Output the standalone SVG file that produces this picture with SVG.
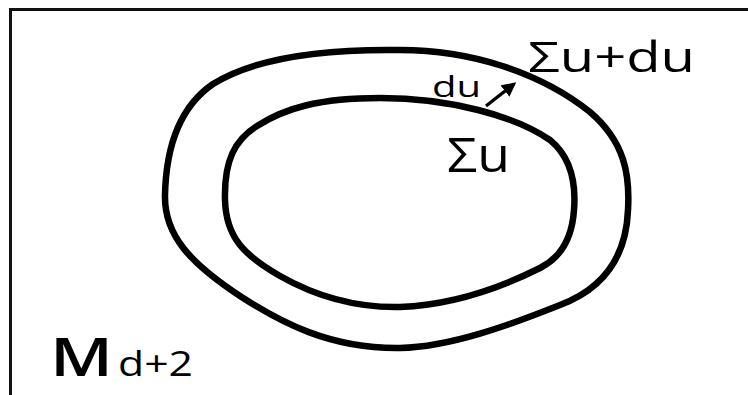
<svg xmlns="http://www.w3.org/2000/svg" width="748" height="395" viewBox="0 0 748 395">
<style>
.t{font-family:"Open Sans","Noto Sans","DejaVu Sans",sans-serif;fill:#000}
.c{fill:none;stroke:#000;stroke-width:6.5;stroke-linejoin:round}
</style>
<defs>
<marker id="ah" viewBox="0 0 10 10" refX="8" refY="5" markerWidth="4.5" markerHeight="4.5" orient="auto" markerUnits="strokeWidth">
<path d="M0,0 L10,5 L0,10 z" fill="#000"/>
</marker>
</defs>
<rect width="748" height="395" fill="#fff"/>
<g id="frame">
<path d="M10.5,400 V9.5 H760" fill="none" stroke="#111" stroke-width="3"/>
<text class="t" x="50" y="376" font-size="53" font-weight="600" textLength="63" lengthAdjust="spacingAndGlyphs">M</text>
<text class="t" x="118" y="376" font-size="34" textLength="75" lengthAdjust="spacingAndGlyphs">d+2</text>
</g>
<g id="outer">
<path class="c" d="M400,50 C470,50 540,72 590,112 C625,142 630,175 628,210 C626,260 600,290 560,305 C510,325 450,347 400,348 C330,349 280,322 240,296 C190,263 164,235 165,195 C166,150 178,108 213,84 C258,56 330,49 400,50 Z"/>
<text class="t" x="528" y="72" font-size="42" textLength="167" lengthAdjust="spacingAndGlyphs">Σu+du</text>
</g>
<g id="inner">
<path class="c" d="M225,200 C224,160 235,140 257,126 C285,108 320,98 380,98 C450,98 515,116 550,140 C572,158 576,185 574,210 C572,240 560,258 540,268 C500,288 450,305 400,307 C350,308 310,293 280,276 C245,256 226,238 225,200 Z"/>
<text class="t" x="447" y="172" font-size="47" textLength="63" lengthAdjust="spacingAndGlyphs">Σu</text>
</g>
<g id="connectors">
<line x1="486" y1="106" x2="514" y2="84" stroke="#000" stroke-width="3.2" marker-end="url(#ah)"/>
<text class="t" x="432" y="97" font-size="30" textLength="49" lengthAdjust="spacingAndGlyphs">du</text>
</g>
</svg>
